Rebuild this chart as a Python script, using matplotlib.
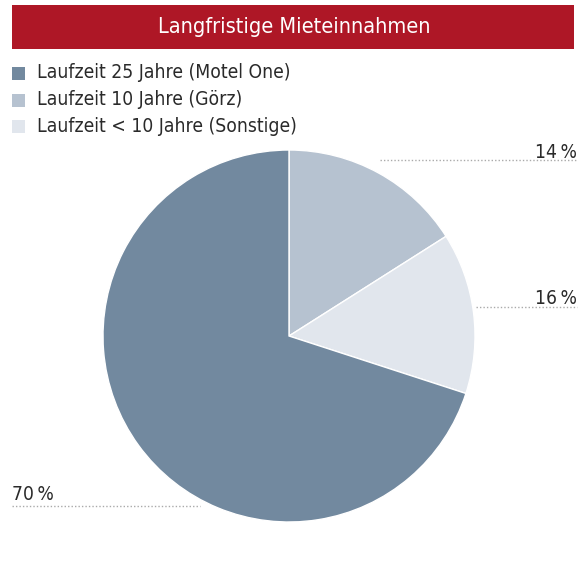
import matplotlib
matplotlib.use("Agg")
import matplotlib.pyplot as plt
from matplotlib.patches import Rectangle
from matplotlib.lines import Line2D

plt.rcParams['font.family'] = ["DejaVu Sans"]
plt.rcParams['font.stretch'] = "condensed"

title = "Langfristige Mieteinnahmen"
categories = ["Laufzeit 25 Jahre (Motel One)", "Laufzeit 10 Jahre (Görz)", "Laufzeit < 10 Jahre (Sonstige)"]
colors = ["#72899f", "#b6c2d0", "#e1e6ed"]
# pie drawing order (clockwise from 12 o'clock): Görz, Sonstige, Motel One
pie_values = [16, 14, 70]
pie_colors = [colors[1], colors[2], colors[0]]
value_labels = ["14\u2009%", "16\u2009%", "70\u2009%"]

W, H = 587, 584
fig = plt.figure(figsize=(W / 100, H / 100), dpi=100)
ax = fig.add_axes([0, 0, 1, 1])

def Y(y):
    return H - y

cx, cy, r = 289, 336, 186
ax.pie(pie_values, colors=pie_colors, startangle=90, counterclock=False,
       center=(cx, Y(cy)), radius=r,
       wedgeprops=dict(edgecolor="white", linewidth=1))
ax.set_xlim(0, W)
ax.set_ylim(0, H)
ax.set_aspect('auto')
ax.axis('off')

TXT = "#2a2a2a"

# title bar
ax.add_patch(Rectangle((12, Y(49)), 562, 44, facecolor="#ae1726", edgecolor="none", zorder=5))
ax.text(294, Y(27), title, color="white", fontsize=15.6, ha="center", va="center", zorder=6)

# legend
for i, (lab, c) in enumerate(zip(categories, colors)):
    y = 73 + i * 26.5
    ax.add_patch(Rectangle((12, Y(y + 7)), 13, 13, facecolor=c, edgecolor="none"))
    ax.text(37, Y(y), lab, color=TXT, fontsize=13.9, ha="left", va="center")

# value labels with dotted leader lines
lab_pos = [(577, 152.5, 380, 577, 160, "right"),
           (577, 298.5, 476, 577, 307, "right"),
           (12, 494.5, 12, 200, 506, "left")]
for txt, (tx, ty, x0, x1, ly, ha) in zip(value_labels, lab_pos):
    ax.text(tx, Y(ty), txt, color=TXT, fontsize=13.9, ha=ha, va="center")
    ax.add_line(Line2D([x0, x1], [Y(ly), Y(ly)], color="#aaaaaa", linewidth=1,
                       linestyle=(0, (1, 1.5)), zorder=0))

fig.savefig("out.png", dpi=100)
